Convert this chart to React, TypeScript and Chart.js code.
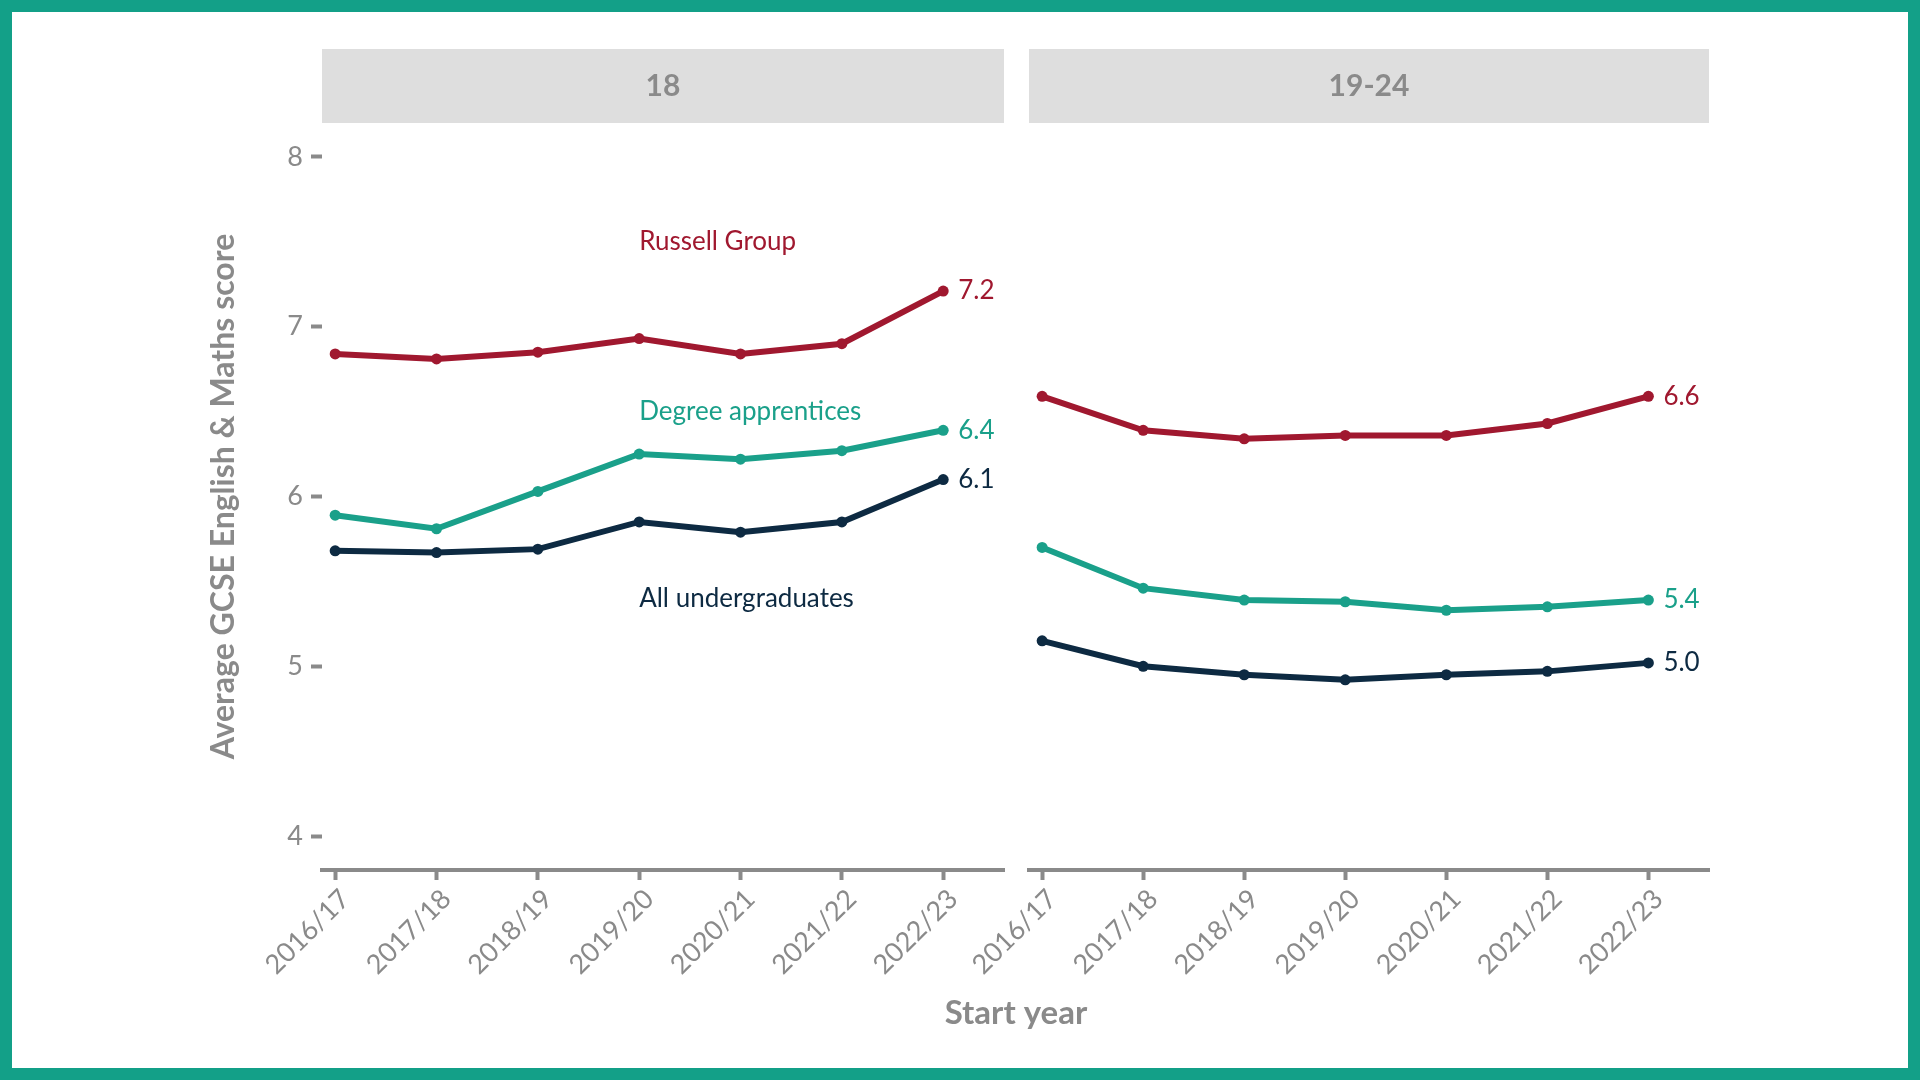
import React, { useEffect, useRef } from "react";
import { Chart, registerables } from "chart.js";

Chart.register(...registerables);

const years = ["2016/17", "2017/18", "2018/19", "2019/20", "2020/21", "2021/22", "2022/23"];
const yTicks = [4, 5, 6, 7, 8];
const seriesNames = ["Russell Group", "Degree apprentices", "All undergraduates"];
const seriesColors = ["#a0182f", "#1aa08a", "#0d2a42"];
const panelTitles = ["18", "19-24"];

// age 18
const russell18 = [6.84, 6.81, 6.85, 6.93, 6.84, 6.9, 7.21];
const degree18 = [5.89, 5.81, 6.03, 6.25, 6.22, 6.27, 6.39];
const allUg18 = [5.68, 5.67, 5.69, 5.85, 5.79, 5.85, 6.1];
// age 19-24
const russell1924 = [6.59, 6.39, 6.34, 6.36, 6.36, 6.43, 6.59];
const degree1924 = [5.7, 5.46, 5.39, 5.38, 5.33, 5.35, 5.39];
const allUg1924 = [5.15, 5.0, 4.95, 4.92, 4.95, 4.97, 5.02];

// series-name annotations (data coords) in first panel
const nameLabelX = 3;
const nameLabelY = [7.5, 6.5, 5.4];

const GRAY = "#8a8a8a";
const FONT = "Lato, 'Noto Sans', sans-serif";

function makeConfig(panel: number): any {
  const series = panel === 0 ? [russell18, degree18, allUg18] : [russell1924, degree1924, allUg1924];
  const first = panel === 0;
  const plugin = {
    id: "decor" + panel,
    afterDraw(chart: any) {
      const ctx = chart.ctx;
      const a = chart.chartArea;
      const xs = chart.scales.x;
      const ys = chart.scales.y;
      ctx.save();
      // strip
      ctx.fillStyle = "#dedede";
      ctx.fillRect(a.left, 49, a.right - a.left, 74);
      ctx.fillStyle = GRAY;
      ctx.font = `bold 30px ${FONT}`;
      ctx.textAlign = "center";
      ctx.textBaseline = "middle";
      ctx.fillText(panelTitles[panel], (a.left + a.right) / 2, 86);
      // end labels
      ctx.font = `26px ${FONT}`;
      ctx.textAlign = "left";
      series.forEach((s, i) => {
        const last = s.length - 1;
        ctx.fillStyle = seriesColors[i];
        ctx.fillText(s[last].toFixed(1), xs.getPixelForValue(last) + 15, ys.getPixelForValue(s[last]));
      });
      if (first) {
        seriesNames.forEach((n, i) => {
          ctx.fillStyle = seriesColors[i];
          ctx.fillText(n, xs.getPixelForValue(nameLabelX), ys.getPixelForValue(nameLabelY[i]));
        });
        // axis titles
        ctx.fillStyle = GRAY;
        ctx.font = `bold 33px ${FONT}`;
        ctx.textAlign = "center";
        ctx.fillText("Start year", 1016, 1013);
        ctx.font = `bold 32px ${FONT}`;
        ctx.translate(224, (a.top + a.bottom) / 2);
        ctx.rotate(-Math.PI / 2);
        ctx.fillText("Average GCSE English & Maths score", 0, 0);
      }
      ctx.restore();
    },
  };
  return {
    type: "line",
    data: {
      datasets: series.map((s, i) => ({
        label: seriesNames[i],
        data: s.map((v, j) => ({ x: j, y: v })),
        borderColor: seriesColors[i],
        backgroundColor: seriesColors[i],
        borderWidth: 6,
        pointRadius: 5.5,
        pointBorderWidth: 0,
        pointBackgroundColor: seriesColors[i],
        tension: 0,
      })),
    },
    options: {
      responsive: false,
      animation: false,
      events: [],
      layout: {
        padding: first
          ? { left: 150, right: 1920 - 1004, top: 123, bottom: 80 }
          : { left: 1029, right: 1920 - 1709, top: 123, bottom: 80 },
      },
      plugins: { legend: { display: false }, tooltip: { enabled: false } },
      scales: {
        x: {
          type: "linear",
          min: -0.13,
          max: 6.6,
          afterBuildTicks: (sc: any) => {
            sc.ticks = years.map((_, i) => ({ value: i }));
          },
          afterFit: (sc: any) => {
            sc.height = 130;
          },
          ticks: {
            autoSkip: false,
            minRotation: 45,
            maxRotation: 45,
            color: GRAY,
            font: { family: FONT, size: 27 },
            padding: 3,
            labelOffset: 10,
            callback: (v: any) => years[v],
          },
          grid: {
            display: true,
            drawOnChartArea: false,
            drawTicks: true,
            tickLength: 10,
            tickWidth: 4,
            tickColor: GRAY,
            color: GRAY,
          },
          border: { display: true, color: GRAY, width: 4 },
        },
        y: {
          display: first,
          min: 3.8,
          max: 8.2,
          afterBuildTicks: (sc: any) => {
            sc.ticks = yTicks.map((v) => ({ value: v }));
          },
          afterFit: (sc: any) => {
            sc.width = first ? 172 : 0;
          },
          ticks: {
            color: GRAY,
            font: { family: FONT, size: 27 },
            padding: 8,
          },
          grid: {
            display: true,
            drawOnChartArea: false,
            drawTicks: true,
            tickLength: 11,
            tickWidth: 4,
            tickColor: GRAY,
            color: GRAY,
          },
          border: { display: false },
        },
      },
    },
    plugins: [plugin],
  };
}

export default function App() {
  const ref1 = useRef<HTMLCanvasElement>(null);
  const ref2 = useRef<HTMLCanvasElement>(null);
  useEffect(() => {
    const c1 = new Chart(ref1.current as HTMLCanvasElement, makeConfig(0));
    const c2 = new Chart(ref2.current as HTMLCanvasElement, makeConfig(1));
    return () => {
      c1.destroy();
      c2.destroy();
    };
  }, []);
  const canvasStyle: React.CSSProperties = { position: "absolute", left: 0, top: 0, width: 1920, height: 1080 };
  return (
    <div style={{ position: "fixed", left: 0, top: 0, width: 1920, height: 1080, background: "#fff", overflow: "hidden" }}>
      <canvas ref={ref1} width={1920} height={1080} style={canvasStyle} />
      <canvas ref={ref2} width={1920} height={1080} style={canvasStyle} />
      <div
        style={{
          position: "absolute",
          left: 0,
          top: 0,
          width: 1920,
          height: 1080,
          boxSizing: "border-box",
          border: "12px solid #13a088",
          pointerEvents: "none",
        }}
      />
    </div>
  );
}
